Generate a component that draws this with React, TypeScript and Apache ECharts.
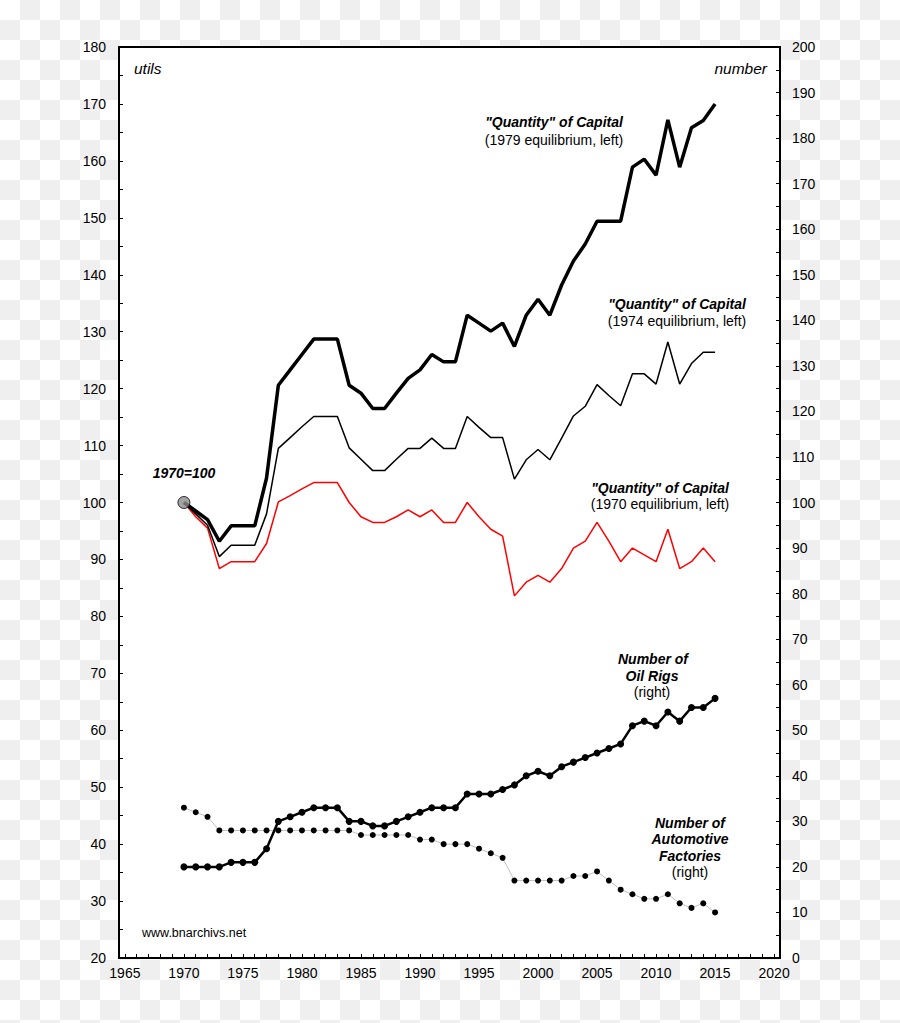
import React, { useEffect, useRef } from "react";
import * as echarts from "echarts";

const years: number[] = [];
for (let y = 1970; y <= 2015; y++) years.push(y);

const q1979 = [100, 98.5, 97.0, 93.2, 95.9, 95.9, 95.9, 104.3, 120.6, 123.3, 126.0, 128.7, 128.7, 128.7, 120.6, 119.2, 116.5, 116.5, 119.2, 121.8, 123.3, 126.0, 124.7, 124.7, 132.9, 131.5, 130.1, 131.5, 127.4, 132.9, 135.7, 132.9, 138.2, 142.4, 145.4, 149.4, 149.4, 149.4, 158.9, 160.3, 157.5, 167.2, 158.9, 165.8, 167.1, 170.0];
const q1974 = [100, 98, 96, 90.5, 92.5, 92.5, 92.5, 98, 109.5, 111.4, 113.3, 115.1, 115.1, 115.1, 109.6, 107.6, 105.6, 105.6, 107.6, 109.5, 109.5, 111.3, 109.5, 109.5, 115.1, 113.2, 111.4, 111.4, 104.1, 107.5, 109.3, 107.5, 111.3, 115.2, 116.9, 120.7, 118.8, 117.0, 122.6, 122.6, 120.8, 128.2, 120.8, 124.4, 126.4, 126.4];
const q1970 = [100, 97.5, 95.5, 88.4, 89.6, 89.6, 89.6, 92.8, 100.1, 101.2, 102.4, 103.5, 103.5, 103.5, 100, 97.5, 96.5, 96.5, 97.5, 98.7, 97.5, 98.7, 96.5, 96.5, 100, 97.5, 95.3, 94.1, 83.6, 86, 87.2, 86, 88.4, 92, 93.2, 96.5, 93.2, 89.6, 92, 90.8, 89.6, 95.3, 88.4, 89.6, 92, 89.6];
const oilRigs = [20, 20, 20, 20, 21, 21, 21, 24, 30, 31, 32, 33, 33, 33, 30, 30, 29, 29, 30, 31, 32, 33, 33, 33, 36, 36, 36, 37, 38, 40, 41, 40, 42, 43, 44, 45, 46, 47, 51, 52, 51, 54, 52, 55, 55, 57];
const factories = [33, 32, 31, 28, 28, 28, 28, 28, 28, 28, 28, 28, 28, 28, 28, 27, 27, 27, 27, 27, 26, 26, 25, 25, 25, 24, 23, 22, 17, 17, 17, 17, 17, 18, 18, 19, 17, 15, 14, 13, 13, 14, 12, 11, 12, 10];

const xTickYears: number[] = [];
for (let y = 1965; y <= 2020; y++) xTickYears.push(y);
const xLabelYears = [1965, 1970, 1975, 1980, 1985, 1990, 1995, 2000, 2005, 2010, 2015, 2020];

const FONT = "'Liberation Sans', Arial, Helvetica, sans-serif";

const pairs = (vals: number[]) => years.map((y, i) => [y, vals[i]]);

export default function App() {
  const ref = useRef<HTMLDivElement>(null);
  useEffect(() => {
    if (!ref.current) return;
    const chart = echarts.init(ref.current, undefined, { renderer: "svg" });
    const txt = (text: string, x: number, y: number, opts: any = {}) => ({
      type: "text",
      x,
      y,
      z: 100,
      style: {
        text,
        fill: "#000",
        fontFamily: FONT,
        fontSize: opts.fontSize || 14,
        fontWeight: opts.fontWeight || "normal",
        fontStyle: opts.fontStyle || "normal",
        align: opts.align || "center",
        textAlign: opts.align || "center",
        verticalAlign: "middle",
        textVerticalAlign: "middle",
      },
    });
    const bi = { fontWeight: "bold", fontStyle: "italic" };
    chart.setOption({
      animation: false,
      textStyle: { fontFamily: FONT },
      grid: {
        left: 119,
        right: 120,
        top: 47,
        bottom: 65,
        show: true,
        backgroundColor: "#fff",
        borderColor: "#000",
        borderWidth: 2,
      },
      xAxis: {
        type: "value",
        min: 1964.5,
        max: 2020.5,
        axisLine: { show: true, lineStyle: { color: "#000", width: 2 } },
        axisTick: { show: true, inside: true, length: 4, customValues: xTickYears, lineStyle: { color: "#000", width: 1 } },
        axisLabel: {
          customValues: xLabelYears,
          color: "#000",
          fontSize: 14,
          margin: 8,
          fontFamily: FONT,
          formatter: (v: number) => String(v),
        },
        splitLine: { show: false },
      },
      yAxis: [
        {
          type: "value",
          position: "left",
          min: 20,
          max: 180,
          interval: 10,
          axisLine: { show: true, lineStyle: { color: "#000", width: 2 } },
          axisTick: { show: true, inside: true, length: 4, lineStyle: { color: "#000" } },
          minorTick: { show: true, splitNumber: 2, length: 4, lineStyle: { color: "#000" } },
          axisLabel: { color: "#000", fontSize: 14, margin: 13, fontFamily: FONT },
          splitLine: { show: false },
        },
        {
          type: "value",
          position: "right",
          min: 0,
          max: 200,
          interval: 10,
          axisLine: { show: true, lineStyle: { color: "#000", width: 2 } },
          axisTick: { show: true, inside: true, length: 4, lineStyle: { color: "#000" } },
          minorTick: { show: true, splitNumber: 2, length: 4, lineStyle: { color: "#000" } },
          axisLabel: { color: "#000", fontSize: 14, margin: 12, fontFamily: FONT },
          splitLine: { show: false },
        },
      ],
      series: [
        {
          type: "line",
          yAxisIndex: 0,
          data: pairs(q1970),
          showSymbol: false,
          lineStyle: { color: "#ff0000", width: 1.5 },
          z: 3,
        },
        {
          type: "line",
          yAxisIndex: 0,
          data: pairs(q1974),
          showSymbol: false,
          lineStyle: { color: "#000", width: 1.5 },
          z: 4,
        },
        {
          type: "line",
          yAxisIndex: 0,
          data: pairs(q1979),
          showSymbol: false,
          lineStyle: { color: "#000", width: 3.5 },
          z: 5,
        },
        {
          type: "line",
          yAxisIndex: 1,
          data: pairs(factories),
          symbol: "circle",
          symbolSize: 6,
          showSymbol: true,
          lineStyle: { color: "#c0c0c0", width: 1 },
          itemStyle: { color: "#000" },
          z: 3,
        },
        {
          type: "line",
          yAxisIndex: 1,
          data: pairs(oilRigs),
          symbol: "circle",
          symbolSize: 7,
          showSymbol: true,
          lineStyle: { color: "#000", width: 2.5 },
          itemStyle: { color: "#000" },
          z: 4,
        },
        {
          type: "scatter",
          yAxisIndex: 0,
          data: [[years[0], q1979[0]]],
          symbol: "circle",
          symbolSize: 12,
          itemStyle: { color: "#8c8c8c", borderColor: "#000", borderWidth: 1 },
          z: 10,
        },
      ],
      graphic: [
        txt("utils", 134, 68, { align: "left", fontStyle: "italic", fontSize: 15.5 }),
        txt("number", 767, 68, { align: "right", fontStyle: "italic", fontSize: 15.5 }),
        txt("1970=100", 184, 473, bi),
        txt('"Quantity" of Capital', 554, 122, bi),
        txt("(1979 equilibrium, left)", 554, 139.5),
        txt('"Quantity" of Capital', 677, 304, bi),
        txt("(1974 equilibrium, left)", 677, 320.5),
        txt('"Quantity" of Capital', 660, 488, bi),
        txt("(1970 equilibrium, left)", 660, 504),
        txt("Number of", 653, 659, bi),
        txt("Oil Rigs", 652, 676, bi),
        txt("(right)", 652, 692),
        txt("Number of", 690, 822.5, bi),
        txt("Automotive", 690, 839, bi),
        txt("Factories", 690, 855.5, bi),
        txt("(right)", 690, 872),
        txt("www.bnarchivs.net", 142, 933, { align: "left", fontSize: 12.5 }),
      ],
    });
    return () => chart.dispose();
  }, []);
  return (
    <div
      ref={ref}
      style={{
        position: "absolute",
        left: 0,
        top: 0,
        width: 900,
        height: 1023,
        background: "repeating-conic-gradient(#efefef 0% 25%, #ffffff 0% 50%) 0 0 / 40px 40px",
      }}
    />
  );
}
